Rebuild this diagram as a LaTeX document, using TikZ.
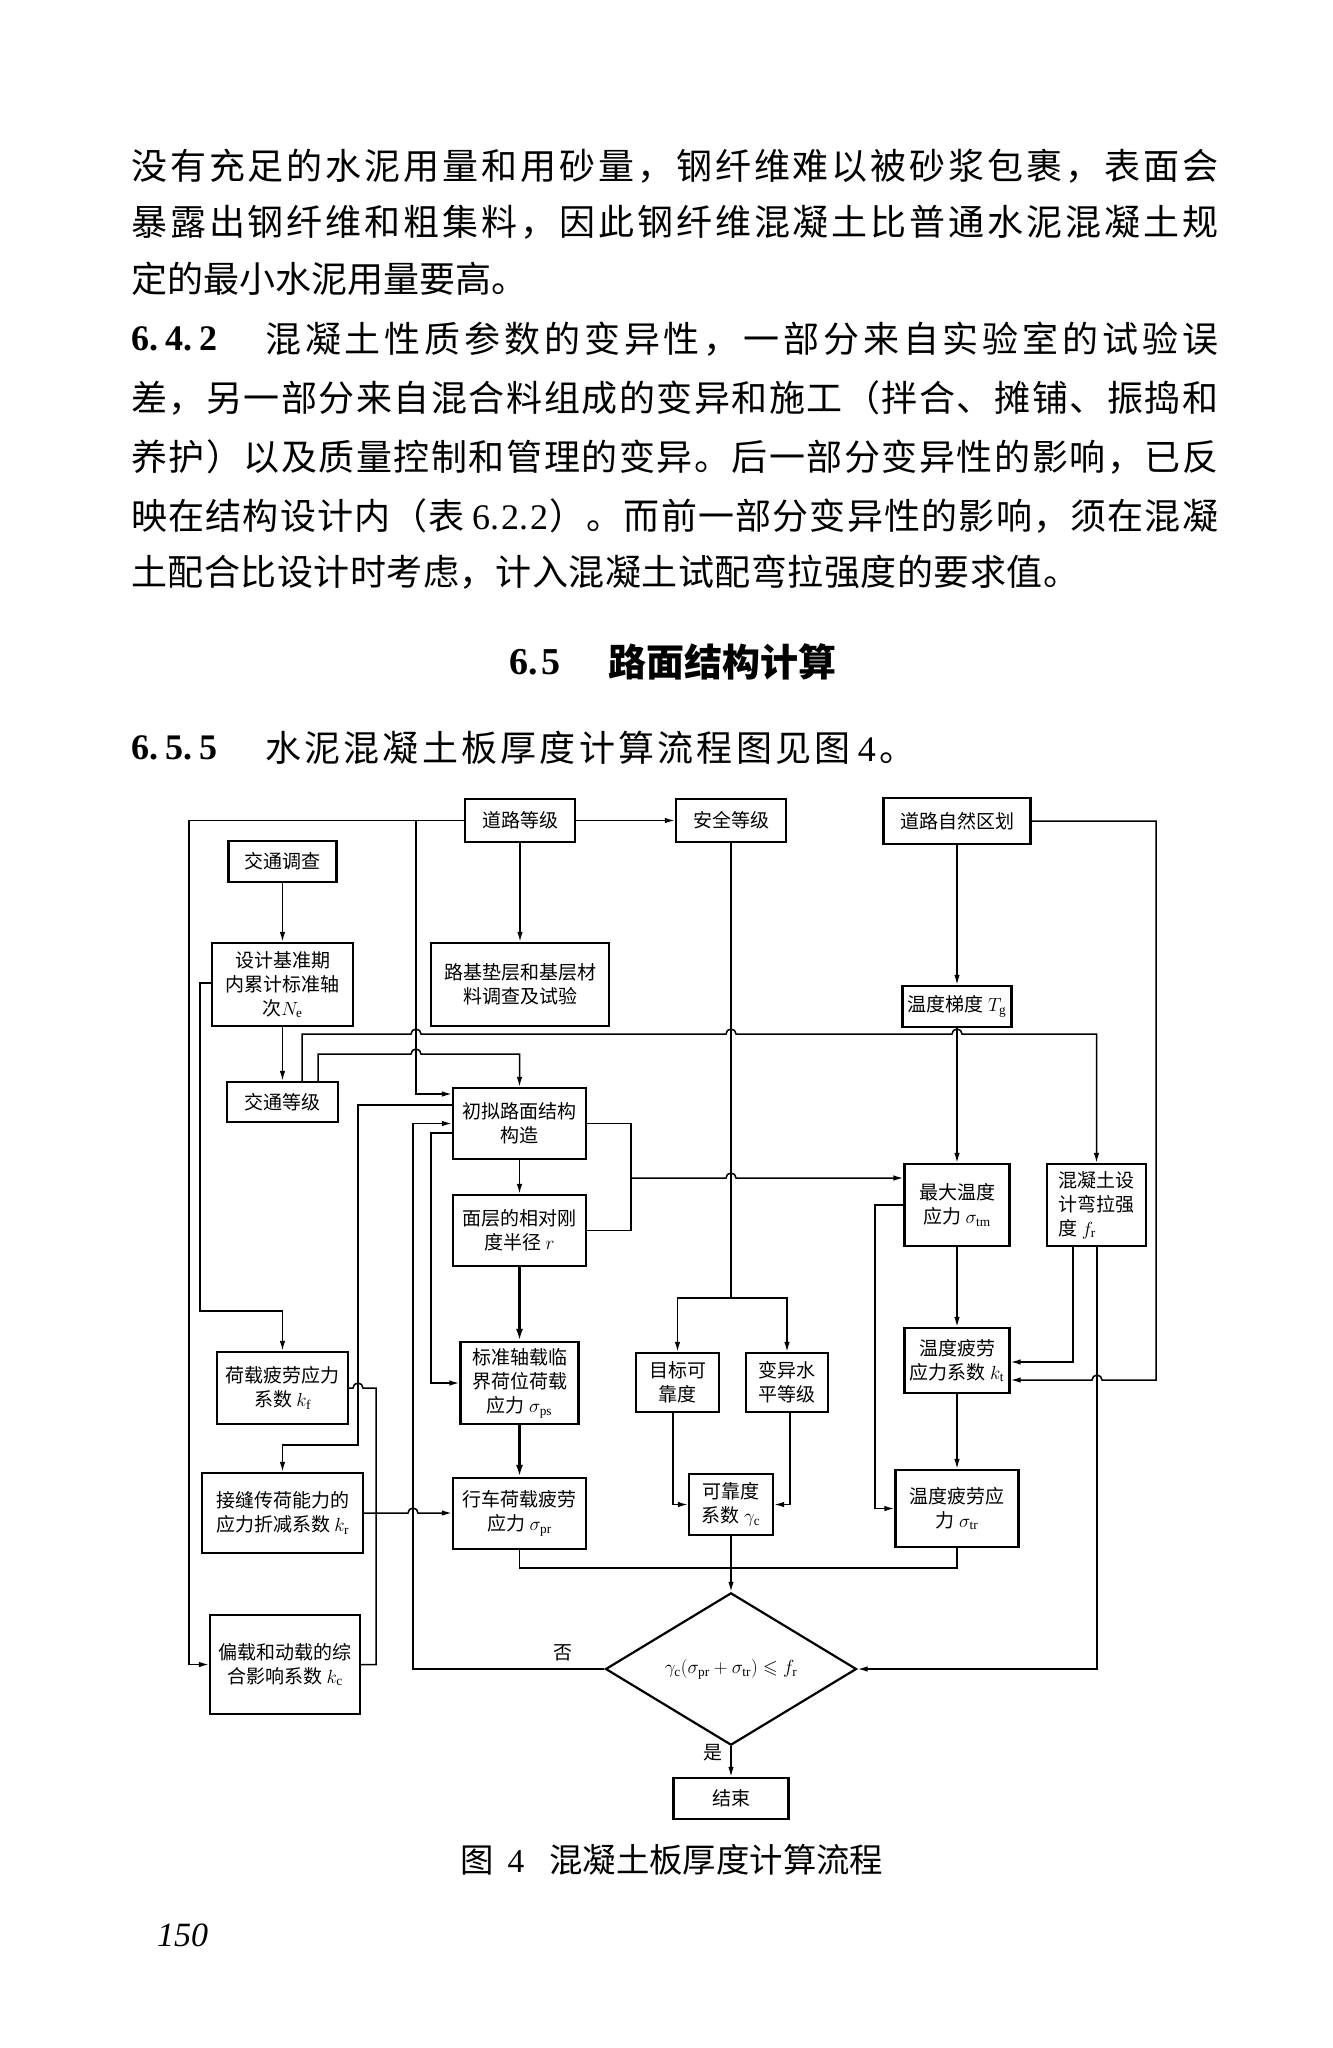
\RequirePackage{fix-cm}
\documentclass[tikz,border=0pt]{standalone}
\usepackage{amssymb}
\usepackage{fontspec}
\setmainfont{Liberation Serif}
\newfontfamily\cjk{Noto Sans CJK SC}
\usetikzlibrary{arrows.meta,shapes.geometric}
\makeatletter
\newcommand\spreadline[2]{\makebox[#1][s]{\@tfor\sp@c:=#2\do{\sp@c\hfil}\unskip}}
\makeatother
\newcommand\boxfont{\cjk\fontsize{19}{24}\selectfont}
\newcommand\bodyfont{\cjk\fontsize{36}{40}\selectfont}
\begin{document}
\begin{tikzpicture}[x=1pt,y=-1pt,
  box/.style={draw,line width=2.2pt,inner sep=0pt,align=center,font=\boxfont},
  ln/.style={line width=1.5pt},
  arr/.style={ln,-{Latex[length=10pt,width=5.5pt]}},
  tarr/.style={line width=2.6pt,-{Latex[length=12pt,width=7pt]}},
  txt/.style={inner sep=0pt,font=\bodyfont,anchor=west},
  lbl/.style={inner sep=0pt,font=\boxfont}]
\fill[white] (0,0) rectangle (1333,2048);
\useasboundingbox (0,0) rectangle (1333,2048);

% ---------- body text ----------
\node[txt] (p1) at (131,166) {\spreadline{1087pt}{没有充足的水泥用量和用砂量，钢纤维难以被砂浆包裹，表面会}};
\node[txt] (p2) at (131,222) {\spreadline{1087pt}{暴露出钢纤维和粗集料，因此钢纤维混凝土比普通水泥混凝土规}};
\node[txt] (p3) at (131,279) {定的最小水泥用量要高。};
\node[txt,font=\fontsize{36}{40}\selectfont\bfseries] (n642) at (131,339) {6.\hspace{7pt}4.\hspace{7pt}2};
\node[txt] (p4) at (265,339) {\spreadline{953pt}{混凝土性质参数的变异性，一部分来自实验室的试验误}};
\node[txt] (p5) at (131,398) {\spreadline{1087pt}{差，另一部分来自混合料组成的变异和施工（拌合、摊铺、振捣和}};
\node[txt] (p6) at (131,457) {\spreadline{1087pt}{养护）以及质量控制和管理的变异。后一部分变异性的影响，已反}};
\node[txt] (p7) at (131,516) {\spreadline{1087pt}{映在结构设计内（表{{\rmfamily\hspace{6pt}6.\hspace{2pt}2.\hspace{2pt}2}}）。而前一部分变异性的影响，须在混凝}};
\node[txt] (p8) at (131,572) {\spreadline{948pt}{土配合比设计时考虑，计入混凝土试配弯拉强度的要求值。}};
\node[txt,font=\fontsize{38}{42}\selectfont\bfseries] (h65) at (509,662) {6.\hspace{4pt}5};
\node[txt,font=\cjk\fontsize{38}{42}\selectfont\bfseries] (h65t) at (608,662) {路面结构计算};
\node[txt,font=\fontsize{36}{40}\selectfont\bfseries] (n655) at (131,748) {6.\hspace{7pt}5.\hspace{7pt}5};
\node[txt] (p9) at (265,748) {\spreadline{650pt}{水泥混凝土板厚度计算流程图见图{{\rmfamily\hspace{4pt}4}}。}};

% ---------- boxes ----------
\node[box,minimum width=110pt,minimum height=43pt] (rdj) at (520,820.5) {道路等级};
\node[box,minimum width=110pt,minimum height=43pt] (aqdj) at (731,820.5) {安全等级};
\node[box,minimum width=147pt,minimum height=46pt] (zrqh) at (957,821) {道路自然区划};
\node[box,minimum width=108pt,minimum height=41pt] (jtdc) at (282.5,861.5) {交通调查};
\node[box,minimum width=141pt,minimum height=83pt] (sjjz) at (282.5,984.5) {设计基准期\\内累计标准轴\\次$N_{\mathrm e}$};
\node[box,minimum width=178pt,minimum height=83pt] (ljdc) at (520,984.5) {路基垫层和基层材\\料调查及试验};
\node[box,minimum width=109pt,minimum height=41pt] (wdtd) at (957,1006.5) {温度梯度 $T_{\mathrm g}$};
\node[box,minimum width=111pt,minimum height=40pt] (jtdj) at (282.5,1102) {交通等级};
\node[box,minimum width=133pt,minimum height=71pt] (cn) at (519.5,1123.5) {初拟路面结构\\构造};
\node[box,minimum width=133pt,minimum height=71pt] (mc) at (519.5,1230.5) {面层的相对刚\\度半径 $r$};
\node[box,minimum width=105pt,minimum height=82pt] (zdwd) at (957,1205) {最大温度\\应力 $\sigma_{\mathrm{tm}}$};
\node[box,minimum width=99pt,minimum height=82pt,align=left] (hnt) at (1096.5,1205) {混凝土设\\计弯拉强\\度 $f_{\mathrm r}$};
\node[box,minimum width=131pt,minimum height=72pt] (hzpl) at (282.5,1388) {荷载疲劳应力\\系数 $k_{\mathrm f}$};
\node[box,minimum width=118pt,minimum height=82pt] (bzzz) at (519.5,1383) {标准轴载临\\界荷位荷载\\应力 $\sigma_{\mathrm{ps}}$};
\node[box,minimum width=83pt,minimum height=59pt] (mbkk) at (677.5,1382.5) {目标可\\靠度};
\node[box,minimum width=82pt,minimum height=59pt] (bysp) at (787,1382.5) {变异水\\平等级};
\node[box,minimum width=105pt,minimum height=65pt] (wdxs) at (957,1360.5) {温度疲劳\\应力系数 $k_{\mathrm t}$};
\node[box,minimum width=161pt,minimum height=80pt] (jf) at (282.5,1513) {接缝传荷能力的\\应力折减系数 $k_{\mathrm r}$};
\node[box,minimum width=133pt,minimum height=71pt] (xc) at (519.5,1513.5) {行车荷载疲劳\\应力 $\sigma_{\mathrm{pr}}$};
\node[box,minimum width=84pt,minimum height=61pt] (kkd) at (731,1504.5) {可靠度\\系数 $\gamma_{\mathrm c}$};
\node[box,minimum width=123pt,minimum height=77pt] (wdyl) at (957,1508.5) {温度疲劳应\\力 $\sigma_{\mathrm{tr}}$};
\node[box,minimum width=150pt,minimum height=99pt] (pz) at (285,1664.5) {偏载和动载的综\\合影响系数 $k_{\mathrm c}$};
\node[box,diamond,minimum width=251pt,minimum height=133pt] (dm) at (731,1669) {$\gamma_{\mathrm c}(\sigma_{\mathrm{pr}}+\sigma_{\mathrm{tr}})\leqslant f_{\mathrm r}$};
\node[box,minimum width=115pt,minimum height=41pt] (jieshu) at (731,1798.5) {结束};

% ---------- connectors ----------
\coordinate (tl) at (189,820.5);
\coordinate (ja) at (416,820.5);
\draw[arr] (rdj.west) -- (tl) |- (pz.west);
\draw[arr] (ja) |- (cn.west |- 0,1094);
\draw[arr] (rdj.east) -- (aqdj.west);
\draw[arr] (rdj.south) -- (ljdc.north);
\draw[arr] (jtdc.south) -- (sjjz.north);
\draw[arr] (sjjz.south) -- (jtdj.north);
\draw[arr] (sjjz.west |- 0,983) -- (200,983) |- (282.5,1311) -- (hzpl.north);

\draw[arr] (302,0 |- jtdj.north) -- (302,1034) -- (411,1034) arc[start angle=180,end angle=0,radius=5pt]
  -- (726,1034) arc[start angle=180,end angle=0,radius=5pt]
  -- (952,1034) arc[start angle=180,end angle=0,radius=5pt] -- (1096.5,1034) -- (hnt.north);
\draw[arr] (318,0 |- jtdj.north) -- (318,1054) -- (411,1054) arc[start angle=180,end angle=0,radius=5pt]
  -- (519.5,1054) -- (cn.north);

\coordinate (sa) at (731,1298);
\draw[ln] (aqdj.south) -- (sa);
\draw[arr] (sa) -| (mbkk.north);
\draw[arr] (sa) -| (bysp.north);

\draw[arr] (zrqh.south) -- (wdtd.north);
\draw[arr] (zrqh.east) -- (1156,821) -- (1156,1380) -- (1102,1380) arc[start angle=0,end angle=180,radius=5pt]
  -- (wdxs.east |- 0,1380);
\draw[arr] (wdtd.south) -- (zdwd.north);

\coordinate (jr) at (631,1178);
\draw[ln] (cn.east) -- (631,1123.5) -- (631,1230.5) -- (mc.east);
\draw[arr] (jr) -- (726,1178) arc[start angle=180,end angle=0,radius=5pt] -- (zdwd.west |- 0,1178);

\draw[arr] (cn.south) -- (mc.north);
\draw[tarr] (mc.south) -- (bzzz.north);
\draw[tarr] (bzzz.south) -- (xc.north);
\draw[arr] (cn.west |- 0,1133) -- (431,1133) |- (bzzz.west);
\draw[arr] (cn.west |- 0,1105) -- (358,1105) |- (282.5,1445) -- (jf.north);
\draw[ln] (hzpl.east) -- (353,1388) arc[start angle=180,end angle=0,radius=5pt] -- (376,1388) |- (pz.east);
\draw[arr] (jf.east) -- (408,1513) arc[start angle=180,end angle=0,radius=5pt] -- (xc.west |- 0,1513);

\draw[arr] (673,0 |- mbkk.south) |- (kkd.west);
\draw[arr] (790,0 |- bysp.south) |- (kkd.east);
\draw[arr] (zdwd.west) -- (875,1205) |- (wdyl.west);
\draw[arr] (zdwd.south) -- (wdxs.north);
\draw[arr] (1073,0 |- hnt.south) |- (wdxs.east |- 0,1362);
\draw[arr] (1097,0 |- hnt.south) |- (dm.east);
\draw[arr] (wdxs.south) -- (wdyl.north);
\draw[arr] (kkd.south) -- (dm.north);
\coordinate (jb) at (731,1568);
\draw[ln] (xc.south) |- (jb);
\draw[ln] (wdyl.south) |- (jb);
\draw[arr] (dm.west) -- (413,1669) |- (cn.west);
\draw[arr] (dm.south) -- (jieshu.north);
\node[lbl] (fou) at (563,1653) {否};
\node[lbl] (shi) at (713,1753) {是};

% ---------- caption and page number ----------
\node[txt,font=\cjk\fontsize{33.4}{38}\selectfont] (cap) at (460,1860) {图\hspace{14pt}{\rmfamily 4}\hspace{25pt}混凝土板厚度计算流程};
\node[txt,font=\fontsize{34}{38}\selectfont\itshape] (pg) at (157,1935) {150};
\end{tikzpicture}
\end{document}
